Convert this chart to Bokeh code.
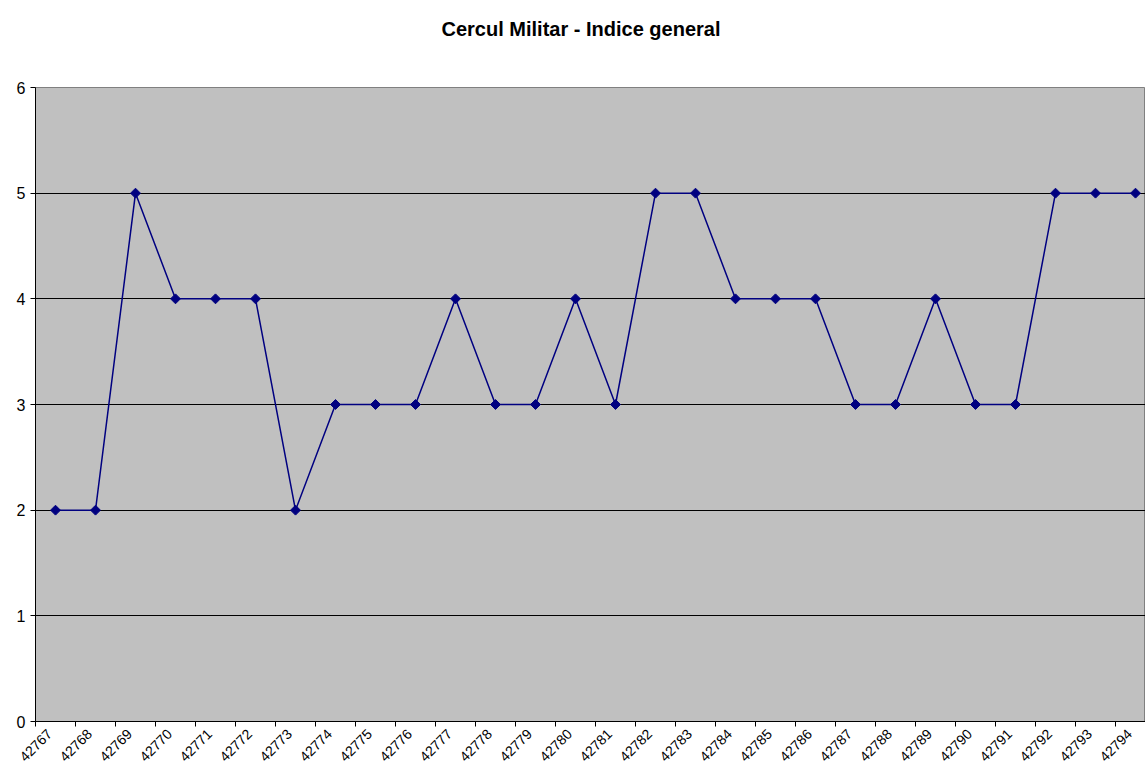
import math
from bokeh.plotting import figure
from bokeh.models import Range1d, FixedTicker, Title
from bokeh.embed import file_html
from bokeh.resources import INLINE

title_text = "Cercul Militar - Indice general"
categories = [str(c) for c in range(42767, 42795)]
values = [2, 2, 5, 4, 4, 4, 2, 3, 3, 3, 4, 3, 3, 4, 3, 5, 5, 4, 4, 4, 3, 3, 4, 3, 3, 5, 5, 5]
y_ticks = [0, 1, 2, 3, 4, 5, 6]

xs = [i + 0.5 for i in range(len(categories))]
label_pos = [x - 0.15 for x in xs]

p = figure(width=1145, height=769, output_backend="svg", toolbar_location=None, title=None,
           x_range=Range1d(0, 27.75), y_range=Range1d(0, 6),
           min_border_left=35, min_border_right=0, min_border_top=85, min_border_bottom=48)

# spacer (inner) then the real title (outer)
p.add_layout(Title(text=" ", text_font_size="1px", standoff=30), "above")
p.add_layout(Title(text=title_text, align="left", offset=406,
                   text_font="Liberation Sans", text_font_size="20px", text_font_style="bold",
                   text_color="black", standoff=30), "above")

p.background_fill_color = "#C0C0C0"
p.border_fill_color = "white"
p.outline_line_color = "#808080"
p.outline_line_width = 1

p.line(xs, values, line_color="#000080", line_width=1.5)
p.scatter(xs, values, marker="square", angle=math.pi / 4, size=7,
          fill_color="#000080", line_color="#000080")

# x axis
p.xaxis.ticker = FixedTicker(ticks=label_pos, minor_ticks=list(range(len(categories) + 1)))
p.xaxis.major_label_overrides = {x: c for x, c in zip(label_pos, categories)}
p.xaxis.major_label_orientation = math.pi / 4
p.xaxis.major_tick_line_color = None
p.xaxis.minor_tick_line_color = "black"
p.xaxis.minor_tick_out = 5
p.xaxis.minor_tick_in = 0
p.xaxis.axis_line_color = "black"
p.xaxis.major_label_text_font = "Liberation Sans"
p.xaxis.major_label_text_font_size = "14px"
p.xaxis.major_label_text_color = "black"
p.xaxis.major_label_standoff = 4

# y axis
p.yaxis.ticker = FixedTicker(ticks=y_ticks)
p.yaxis.minor_tick_line_color = None
p.yaxis.major_tick_out = 5
p.yaxis.major_tick_in = 0
p.yaxis.axis_line_color = "black"
p.yaxis.major_label_text_font = "Liberation Sans"
p.yaxis.major_label_text_font_size = "16px"
p.yaxis.major_label_text_color = "black"
p.yaxis.major_label_standoff = 5

p.xgrid.grid_line_color = None
p.ygrid.ticker = FixedTicker(ticks=[1, 2, 3, 4, 5])
p.ygrid.grid_line_color = "black"
p.ygrid.grid_line_width = 1

open("out.html", "w").write(file_html(p, INLINE))
